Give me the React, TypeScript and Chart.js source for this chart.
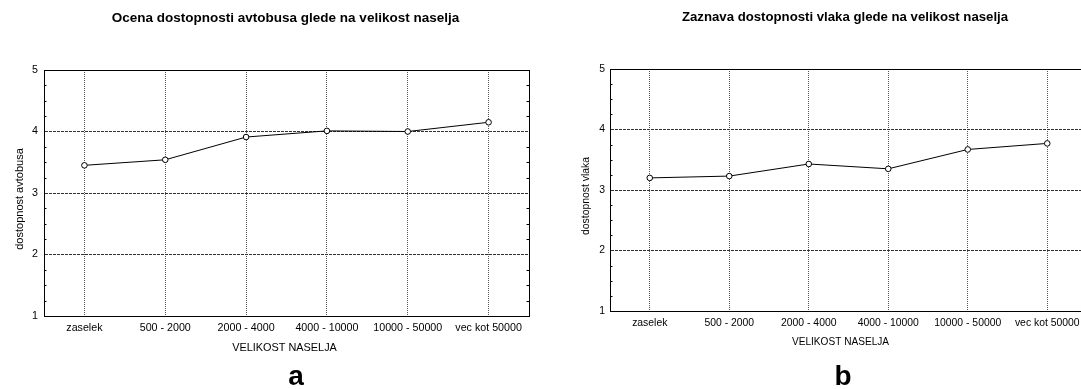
import React, { useEffect, useRef } from 'react';
import { Chart, registerables } from 'chart.js';

Chart.register(...registerables);

// ---------- data ----------
const categories = ['zaselek', '500 - 2000', '2000 - 4000', '4000 - 10000', '10000 - 50000', 'vec kot 50000'];
const busValues = [3.45, 3.54, 3.91, 4.01, 4.0, 4.15];
const trainValues = [3.2, 3.23, 3.43, 3.35, 3.67, 3.77];
const yTickValues = [1, 2, 3, 4, 5];
const minorStep = 0.25;
const busTitle = 'Ocena dostopnosti avtobusa glede na velikost naselja';
const trainTitle = 'Zaznava dostopnosti vlaka glede na velikost naselja';
const xAxisTitle = 'VELIKOST NASELJA';
const busYTitle = 'dostopnost avtobusa';
const trainYTitle = 'dostopnost vlaka';
const panelLetters = ['a', 'b'];

// ---------- layout / style ----------
const FONT = '"Liberation Sans", Arial, Helvetica, sans-serif';
const H = 389;

interface PanelSpec {
  values: number[];
  title: string;
  yTitle: string;
  letter: string;
  canvasLeft: number;
  canvasWidth: number;
  area: { left: number; top: number; right: number; bottom: number };
  tickSize: number;
  titleSize: number;
  xTitleSize: number;
  yTitleSize: number;
  titleX: number;
  titleBaseline: number;
  xTitleX: number;
  xTitleBaseline: number;
  yTitleX: number;
  yTitleY: number;
  letterX: number;
  letterBaseline: number;
  yTickPad: number;
  xTickPad: number;
}

const panels: PanelSpec[] = [
  {
    values: busValues,
    title: busTitle,
    yTitle: busYTitle,
    letter: panelLetters[0],
    canvasLeft: 0,
    canvasWidth: 540,
    area: { left: 44, top: 70, right: 529, bottom: 316 },
    tickSize: 10.7,
    titleSize: 13.5,
    xTitleSize: 10.9,
    yTitleSize: 11,
    titleX: 285.5,
    titleBaseline: 21.5,
    xTitleX: 284.5,
    xTitleBaseline: 350.5,
    yTitleX: 19.5,
    yTitleY: 199,
    letterX: 296,
    letterBaseline: 385,
    yTickPad: 6,
    xTickPad: 6,
  },
  {
    values: trainValues,
    title: trainTitle,
    yTitle: trainYTitle,
    letter: panelLetters[1],
    canvasLeft: 540,
    canvasWidth: 560,
    area: { left: 70, top: 69, right: 547, bottom: 311 },
    tickSize: 10.4,
    titleSize: 13.2,
    xTitleSize: 10.1,
    yTitleSize: 10.4,
    titleX: 305,
    titleBaseline: 21,
    xTitleX: 300.5,
    xTitleBaseline: 345,
    yTitleX: 46.5,
    yTitleY: 196,
    letterX: 303,
    letterBaseline: 385,
    yTickPad: 5,
    xTickPad: 6,
  },
];

function Panel({ spec }: { spec: PanelSpec }) {
  const ref = useRef<HTMLCanvasElement | null>(null);

  useEffect(() => {
    const canvas = ref.current;
    if (!canvas) return;

    const decor = {
      id: 'decor',
      beforeDatasetsDraw(chart: any) {
        const { ctx, chartArea } = chart;
        const y = chart.scales.y;
        ctx.save();
        ctx.strokeStyle = '#000';
        ctx.lineWidth = 1;
        // frame
        ctx.strokeRect(
          Math.round(chartArea.left) + 0.5,
          Math.round(chartArea.top) + 0.5,
          Math.round(chartArea.right) - Math.round(chartArea.left),
          Math.round(chartArea.bottom) - Math.round(chartArea.top)
        );
        // minor ticks on left and right
        const min = yTickValues[0];
        const max = yTickValues[yTickValues.length - 1];
        ctx.beginPath();
        for (let v = min + minorStep; v < max; v += minorStep) {
          if (Math.abs(v - Math.round(v)) < 1e-6) continue;
          const py = Math.round(y.getPixelForValue(v)) + 0.5;
          ctx.moveTo(chartArea.left, py);
          ctx.lineTo(chartArea.left + 2.5, py);
          ctx.moveTo(chartArea.right - 2.5, py);
          ctx.lineTo(chartArea.right, py);
        }
        ctx.stroke();
        ctx.restore();
      },
      afterDraw(chart: any) {
        const { ctx } = chart;
        ctx.save();
        ctx.fillStyle = '#000';
        ctx.textAlign = 'center';
        ctx.textBaseline = 'alphabetic';
        // chart title
        ctx.font = `bold ${spec.titleSize}px ${FONT}`;
        ctx.fillText(spec.title, spec.titleX, spec.titleBaseline);
        // x axis title
        ctx.font = `${spec.xTitleSize}px ${FONT}`;
        ctx.fillText(xAxisTitle, spec.xTitleX, spec.xTitleBaseline);
        // y axis title
        ctx.save();
        ctx.translate(spec.yTitleX, spec.yTitleY);
        ctx.rotate(-Math.PI / 2);
        ctx.textBaseline = 'middle';
        ctx.font = `${spec.yTitleSize}px ${FONT}`;
        ctx.fillText(spec.yTitle, 0, 0);
        ctx.restore();
        // panel letter
        ctx.font = `bold 28px ${FONT}`;
        ctx.fillText(spec.letter, spec.letterX, spec.letterBaseline);
        ctx.restore();
      },
    };

    const chart = new Chart(canvas, {
      type: 'line',
      data: {
        labels: categories,
        datasets: [
          {
            data: spec.values,
            borderColor: '#000',
            borderWidth: 1,
            tension: 0,
            pointRadius: 2.8,
            pointHoverRadius: 2.8,
            pointBackgroundColor: '#fff',
            pointBorderColor: '#000',
            pointBorderWidth: 1,
            fill: false,
          },
        ],
      },
      options: {
        animation: false,
        responsive: false,
        maintainAspectRatio: false,
        events: [],
        layout: {
          autoPadding: false,
          padding: {
            left: 0,
            top: spec.area.top,
            right: spec.canvasWidth - spec.area.right,
            bottom: 0,
          },
        },
        plugins: {
          legend: { display: false },
          title: { display: false },
          tooltip: { enabled: false },
        },
        scales: {
          x: {
            type: 'category',
            offset: true,
            afterFit: (s: any) => {
              s.height = H - spec.area.bottom;
            },
            grid: {
              offset: false,
              color: '#555',
              lineWidth: 1,
              drawTicks: false,
            },
            border: { display: true, color: '#000', width: 1, dash: [1, 1] },
            ticks: {
              autoSkip: false,
              maxRotation: 0,
              minRotation: 0,
              padding: spec.xTickPad,
              color: '#000',
              font: { family: FONT, size: spec.tickSize },
            },
            title: { display: false },
          },
          y: {
            type: 'linear',
            min: yTickValues[0],
            max: yTickValues[yTickValues.length - 1],
            afterFit: (s: any) => {
              s.width = spec.area.left;
            },
            afterBuildTicks: (s: any) => {
              s.ticks = yTickValues.map((v) => ({ value: v }));
            },
            grid: {
              color: (c: any) =>
                c.tick && (c.tick.value === yTickValues[0] || c.tick.value === yTickValues[yTickValues.length - 1])
                  ? 'rgba(0,0,0,0)'
                  : '#333',
              lineWidth: 1,
              drawTicks: false,
            },
            border: { display: true, color: '#000', width: 1, dash: [3, 1] },
            ticks: {
              padding: spec.yTickPad,
              color: '#000',
              font: { family: FONT, size: spec.tickSize },
            },
            title: { display: false },
          },
        },
      },
      plugins: [decor],
    } as any);

    return () => chart.destroy();
  }, [spec]);

  return (
    <canvas
      ref={ref}
      width={spec.canvasWidth}
      height={H}
      style={{
        position: 'absolute',
        left: spec.canvasLeft,
        top: 0,
        width: spec.canvasWidth,
        height: H,
        display: 'block',
      }}
    />
  );
}

export default function App() {
  return (
    <div
      style={{
        position: 'fixed',
        left: 0,
        top: 0,
        width: 1081,
        height: H,
        overflow: 'hidden',
        background: '#fff',
      }}
    >
      {panels.map((p, i) => (
        <Panel key={i} spec={p} />
      ))}
    </div>
  );
}
